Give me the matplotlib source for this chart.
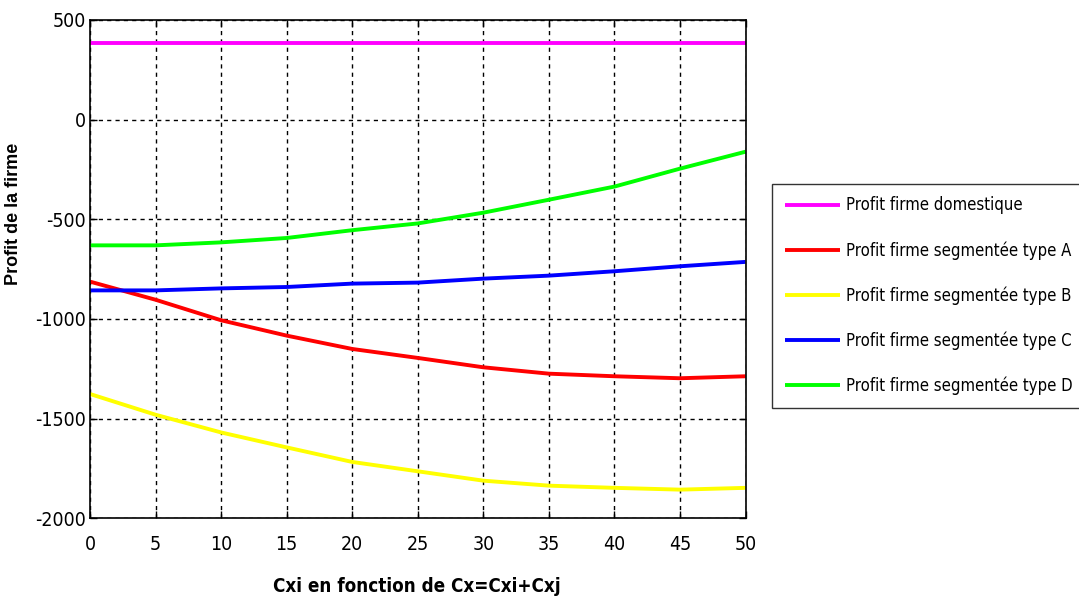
import matplotlib
matplotlib.use('Agg')
import matplotlib.pyplot as plt

plt.rcParams['axes.unicode_minus'] = False

# values at Cxi = 0, 5, ..., 50
cxi = [0, 5, 10, 15, 20, 25, 30, 35, 40, 45, 50]
profit_domestique = [385, 385, 385, 385, 385, 385, 385, 385, 385, 385, 385]
profit_type_a = [-813, -904, -1007, -1084, -1151, -1196, -1243, -1275, -1288, -1298, -1288]
profit_type_b = [-1377, -1481, -1570, -1645, -1718, -1765, -1812, -1837, -1848, -1857, -1848]
profit_type_c = [-857, -857, -847, -840, -823, -818, -798, -783, -761, -736, -714]
profit_type_d = [-631, -631, -616, -594, -555, -521, -467, -402, -336, -246, -161]

labels = ['Profit firme domestique',
          'Profit firme segmentée type A',
          'Profit firme segmentée type B',
          'Profit firme segmentée type C',
          'Profit firme segmentée type D']
colors = ['#ff00ff', '#ff0000', '#ffff00', '#0000ff', '#00ff00']

NARROW = ['DejaVu Sans', 'Liberation Sans']

fig = plt.figure(figsize=(10.79, 6.06), dpi=100)
ax = fig.add_axes([0.0834, 0.145, 0.6076, 0.822])

series = [profit_domestique, profit_type_a, profit_type_b, profit_type_c, profit_type_d]
for vals, lab, col in zip(series, labels, colors):
    ax.plot(cxi, vals, color=col, lw=2.8, label=lab, solid_capstyle='butt')

ax.set_xlim(0, 50)
ax.set_ylim(-2000, 500)
ax.set_xticks(range(0, 51, 5))
ax.set_yticks(range(-2000, 501, 500))
ax.grid(True, color='black', linestyle=(0, (3, 3)), linewidth=1.0)
ax.tick_params(direction='in', top=True, right=True, length=5, width=1)
ax.tick_params(axis='x', pad=12)
ax.tick_params(axis='y', pad=3)
for lbl in ax.get_xticklabels() + ax.get_yticklabels():
    lbl.set_family(NARROW)
    lbl.set_stretch('condensed')
    lbl.set_fontsize(14)
for sp in ax.spines.values():
    sp.set_linewidth(1.2)

ax.set_xlabel('Cxi en fonction de Cx=Cxi+Cxj', family=NARROW, fontstretch='condensed',
              fontsize=13.5, fontweight='bold')
ax.xaxis.set_label_coords(0.498, -0.118)
ax.set_ylabel('Profit de la firme', family=['Liberation Sans', 'DejaVu Sans'],
              fontsize=13, fontweight='bold')
ax.yaxis.set_label_coords(-0.103, 0.61)

leg = fig.legend(loc='upper left', bbox_to_anchor=(772 / 1079, 1 - 184 / 606),
                 prop={'family': NARROW, 'stretch': 'condensed', 'size': 12},
                 frameon=True, fancybox=False,
                 edgecolor='black', handlelength=3.3, labelspacing=1.6,
                 borderpad=0.75, handletextpad=0.4, borderaxespad=0)
leg.get_frame().set_linewidth(1.0)

fig.savefig('out.png', dpi=100)
